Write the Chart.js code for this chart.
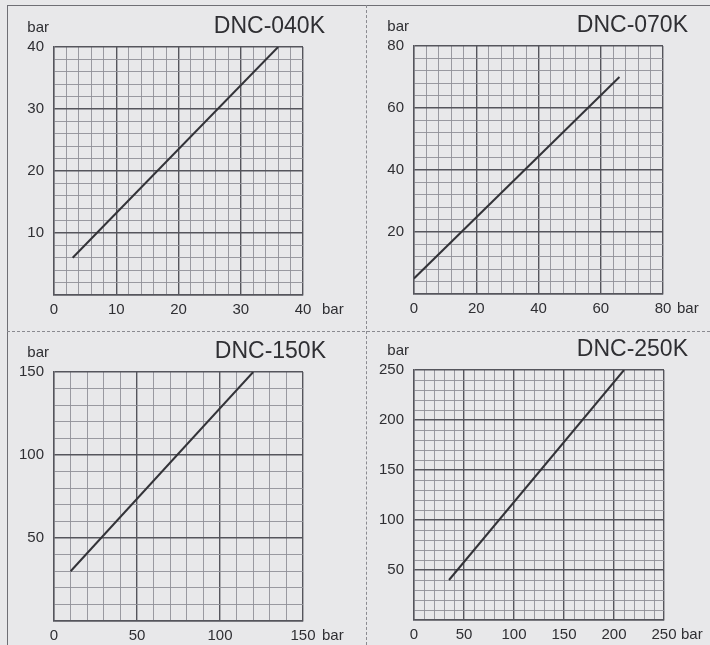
<!DOCTYPE html>
<html>
<head>
<meta charset="utf-8">
<script src="https://cdn.jsdelivr.net/npm/chart.js@4"></script>
<style>
  html, body { margin: 0; padding: 0; background: #e8e8ea; }
  #sheet { position: relative; width: 710px; height: 645px; overflow: hidden; background: #e8e8ea; }
  #sheet canvas { position: absolute; left: 0; top: 0; }
  .rule { position: absolute; }
  .outer-left { left: 7px; top: 5px; bottom: 0; border-left: 1px solid #6f6f75; }
  .outer-top { left: 7px; top: 5px; right: 0; border-top: 1px solid #6f6f75; }
  .split-v { left: 366px; top: 5px; bottom: 0; border-left: 1px dashed #8a8a90; }
  .split-h { left: 7px; top: 331px; right: 0; border-top: 1px dashed #8a8a90; }
</style>
</head>
<body>
<div id="sheet">
  <div class="rule outer-left"></div>
  <div class="rule outer-top"></div>
  <div class="rule split-v"></div>
  <div class="rule split-h"></div>
  <canvas id="c040" width="710" height="645"></canvas>
  <canvas id="c070" width="710" height="645"></canvas>
  <canvas id="c150" width="710" height="645"></canvas>
  <canvas id="c250" width="710" height="645"></canvas>
</div>
<script>
// 各型號資料：入口壓力 (x) -> 出口壓力 (y)，單位 bar
const titles = ["DNC-040K", "DNC-070K", "DNC-150K", "DNC-250K"];
const axisMax = [40, 80, 150, 250];
const majorStep = [10, 20, 50, 50];
const minorStep = [2, 4, 10, 10];
const unitLabel = "bar";

const inlet040 = [3, 36];
const outlet040 = [6, 40];
const inlet070 = [0, 66];
const outlet070 = [5, 70];
const inlet150 = [10, 120];
const outlet150 = [30, 150];
const inlet250 = [35, 210];
const outlet250 = [40, 250];

const MAJOR = "#55555c";
const MINOR = "#909097";
const INK = "#2f2f33";
const FONT = "'Liberation Sans', Arial, sans-serif";

Chart.defaults.font.family = FONT;
Chart.defaults.color = INK;

// 每個面板的圖區位置 (頁面座標)
const panels = [
  { id: "c040", box: { left: 54, top: 47, right: 303, bottom: 295 }, titleShift: 22, unitGap: 19, xs: inlet040, ys: outlet040 },
  { id: "c070", box: { left: 414, top: 46, right: 663, bottom: 294 }, titleShift: 25, unitGap: 14, xs: inlet070, ys: outlet070 },
  { id: "c150", box: { left: 54, top: 372, right: 303, bottom: 621 }, titleShift: 23, unitGap: 19, xs: inlet150, ys: outlet150 },
  { id: "c250", box: { left: 414, top: 370, right: 664, bottom: 620 }, titleShift: 24, unitGap: 17, xs: inlet250, ys: outlet250 },
];

// 標題與單位文字
const panelText = {
  id: "panelText",
  afterDraw(chart, args, opts) {
    const { ctx, chartArea: a } = chart;
    ctx.save();
    ctx.fillStyle = INK;
    ctx.textAlign = "right";
    ctx.textBaseline = "alphabetic";
    ctx.font = `23px ${FONT}`;
    ctx.fillText(opts.title, a.right + opts.titleShift, a.top - 14);
    ctx.font = `15px ${FONT}`;
    ctx.fillText(unitLabel, a.left - 5, a.top - 15);
    ctx.textAlign = "left";
    ctx.textBaseline = "middle";
    ctx.fillText(unitLabel, a.right + opts.unitGap, a.bottom + 15);
    ctx.restore();
  },
};

function gridColor(major) {
  return (c) => (c.tick && c.tick.value % major === 0 ? MAJOR : MINOR);
}
function gridWidth(major) {
  return (c) => (c.tick && c.tick.value % major === 0 ? 1.4 : 0.9);
}

panels.forEach((p, i) => {
  const max = axisMax[i];
  const major = majorStep[i];
  const minor = minorStep[i];
  const points = p.xs.map((x, k) => ({ x, y: p.ys[k] }));

  new Chart(document.getElementById(p.id), {
    type: "scatter",
    data: {
      datasets: [
        {
          data: points,
          showLine: true,
          borderColor: "#333338",
          borderWidth: 2,
          pointRadius: 0,
          fill: false,
        },
      ],
    },
    options: {
      responsive: false,
      animation: false,
      events: [],
      layout: {
        padding: {
          left: p.box.left - 50,
          top: p.box.top,
          right: 710 - p.box.right,
          bottom: 645 - p.box.bottom - 20,
        },
      },
      plugins: {
        legend: { display: false },
        tooltip: { enabled: false },
        panelText: { title: titles[i], titleShift: p.titleShift, unitGap: p.unitGap },
      },
      scales: {
        x: {
          type: "linear",
          min: 0,
          max: max,
          afterFit: (s) => { s.height = 20; },
          ticks: {
            stepSize: minor,
            autoSkip: false,
            maxRotation: 0,
            padding: 6,
            color: INK,
            font: { size: 15 },
            callback: (v) => (v % major === 0 ? v : ""),
          },
          grid: { drawTicks: false, color: gridColor(major), lineWidth: gridWidth(major) },
          border: { color: MAJOR, width: 1.4 },
        },
        y: {
          type: "linear",
          min: 0,
          max: max,
          afterFit: (s) => { s.width = 50; },
          ticks: {
            stepSize: minor,
            autoSkip: false,
            padding: 10,
            color: INK,
            font: { size: 15 },
            callback: (v) => (v !== 0 && v % major === 0 ? v : ""),
          },
          grid: { drawTicks: false, color: gridColor(major), lineWidth: gridWidth(major) },
          border: { color: MAJOR, width: 1.4 },
        },
      },
    },
    plugins: [panelText],
  });
});
</script>
</body>
</html>
